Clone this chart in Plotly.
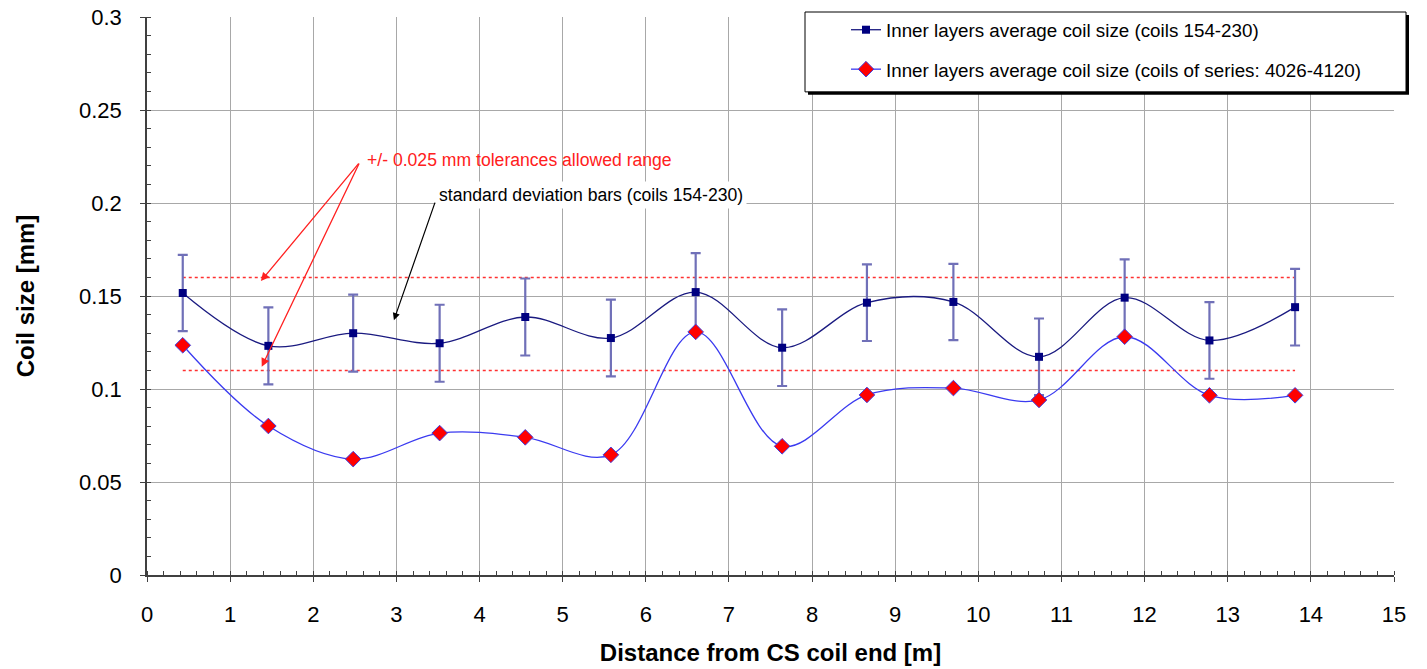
import plotly.graph_objects as go

# ---- data ----
distance_m = [0.43, 1.46, 2.48, 3.52, 4.55, 5.58, 6.60, 7.64, 8.66, 9.70, 10.73, 11.76, 12.78, 13.81]
avg_154_230 = [0.1516, 0.1232, 0.1300, 0.1246, 0.1387, 0.1274, 0.1521, 0.1222, 0.1464, 0.1468, 0.1173, 0.1491, 0.1261, 0.1440]
std_154_230 = [0.0205, 0.0207, 0.0207, 0.0207, 0.0207, 0.0206, 0.0210, 0.0206, 0.0206, 0.0205, 0.0206, 0.0206, 0.0206, 0.0206]
avg_4026_4120 = [0.1235, 0.0801, 0.0623, 0.0763, 0.0740, 0.0646, 0.1307, 0.0692, 0.0968, 0.1005, 0.0941, 0.1281, 0.0966, 0.0966]
tolerance_upper = 0.16
tolerance_lower = 0.11

y_tickvals = [0, 0.05, 0.1, 0.15, 0.2, 0.25, 0.3]
y_ticktext = ["0", "0.05", "0.1", "0.15", "0.2", "0.25", "0.3"]
x_tickvals = list(range(0, 16))

name1 = "Inner layers average coil size (coils 154-230)"
name2 = "Inner layers average coil size (coils of series: 4026-4120)"
note_red = "+/- 0.025 mm tolerances allowed range"
note_black = "standard deviation bars (coils 154-230)"

FONT = "Liberation Sans, Arial, sans-serif"

fig = go.Figure()

# tolerance lines
for tv in (tolerance_upper, tolerance_lower):
    fig.add_trace(go.Scatter(
        x=[distance_m[0], distance_m[-1]], y=[tv, tv], mode="lines",
        line=dict(color="#FF3030", width=1.5, dash="3px,3px"),
        showlegend=False, hoverinfo="skip"))

fig.add_trace(go.Scatter(
    x=distance_m, y=avg_154_230, name=name1, mode="lines+markers",
    line=dict(color="#1A1A80", width=1.3, shape="spline", smoothing=1.0),
    marker=dict(symbol="square", size=8, color="#000080", line=dict(width=0)),
    error_y=dict(type="data", array=std_154_230, visible=True,
                 color="#7070B8", thickness=2.2, width=5),
    legendgroup="a"))

fig.add_trace(go.Scatter(
    x=distance_m, y=avg_4026_4120, name=name2, mode="lines+markers",
    line=dict(color="#3A3AF0", width=1.3, shape="spline", smoothing=1.0),
    marker=dict(symbol="diamond", size=12, color="#FF0000",
                line=dict(width=1, color="#4040E0")),
    legendgroup="b"))

axis_common = dict(
    showgrid=True, gridcolor="#A8A8A8", gridwidth=1,
    showline=True, linecolor="#404040", linewidth=1.5,
    ticks="outside", ticklen=5, tickcolor="#404040", tickwidth=1.2,
    zeroline=False, automargin=False,
    tickfont=dict(family=FONT, size=22, color="#000000"),
)

fig.update_xaxes(
    range=[0, 15], tickvals=x_tickvals, ticklabelstandoff=14,
    minor=dict(dtick=0.2, ticks="inside", ticklen=4, tickcolor="#404040", showgrid=False),
    title=dict(text="<b>Distance from CS coil end [m]</b>",
               font=dict(family=FONT, size=24, color="#000"), standoff=18),
    **axis_common)

fig.update_yaxes(
    range=[0, 0.3], tickvals=y_tickvals, ticktext=y_ticktext, ticklabelstandoff=14,
    minor=dict(dtick=0.01, ticks="inside", ticklen=4, tickcolor="#404040", showgrid=False),
    title=dict(text="<b>Coil size [mm]</b>",
               font=dict(family=FONT, size=24, color="#000"), standoff=38),
    **axis_common)

# pixel -> paper helpers for the legend frame (plot area: x 147..1394, y 16..575)
def px(xp):
    return (xp - 147) / 1247.0

def py(yp):
    return (575 - yp) / 559.0

shapes = [
    # legend drop shadow
    dict(type="rect", xref="paper", yref="paper", x0=px(808), x1=px(1409), y0=py(94), y1=py(14),
         fillcolor="#000000", line=dict(width=0), layer="above"),
    # legend frame
    dict(type="rect", xref="paper", yref="paper", x0=px(805), x1=px(1406), y0=py(91), y1=py(11),
         fillcolor="#FFFFFF", line=dict(width=1, color="#000000"), layer="above"),
]

annotations = [
    dict(x=1.37, y=0.158, ax=2.56, ay=0.222, xref="x", yref="y", axref="x", ayref="y",
         text="", showarrow=True, arrowhead=2, arrowsize=1.3, arrowwidth=1.3, arrowcolor="#FF2020"),
    dict(x=1.38, y=0.112, ax=2.56, ay=0.222, xref="x", yref="y", axref="x", ayref="y",
         text="", showarrow=True, arrowhead=2, arrowsize=1.3, arrowwidth=1.3, arrowcolor="#FF2020"),
    dict(x=2.62, y=0.2232, xref="x", yref="y", text=note_red, showarrow=False,
         xanchor="left", yanchor="middle", font=dict(family=FONT, size=17.6, color="#FF2020")),
    dict(x=3.47, y=0.2045, xref="x", yref="y", text=note_black, showarrow=False,
         xanchor="left", yanchor="middle", bgcolor="#FFFFFF", borderpad=3,
         font=dict(family=FONT, size=17.6, color="#000000")),
    dict(x=2.97, y=0.137, ax=3.47, ay=0.201, xref="x", yref="y", axref="x", ayref="y",
         text="", showarrow=True, arrowhead=2, arrowsize=1.2, arrowwidth=1.2, arrowcolor="#000000"),
]

fig.update_layout(
    width=1427, height=669, autosize=False,
    margin=dict(l=147, r=33, t=16, b=94, pad=0),
    paper_bgcolor="#FFFFFF", plot_bgcolor="#FFFFFF",
    font=dict(family=FONT, color="#000000"),
    shapes=shapes, annotations=annotations,
    legend=dict(x=px(846), y=py(11), xanchor="left", yanchor="top",
                bgcolor="rgba(0,0,0,0)", borderwidth=0, tracegroupgap=12,
                font=dict(family=FONT, size=18.8, color="#000000")),
    showlegend=True,
)

fig.write_html("out.html")
